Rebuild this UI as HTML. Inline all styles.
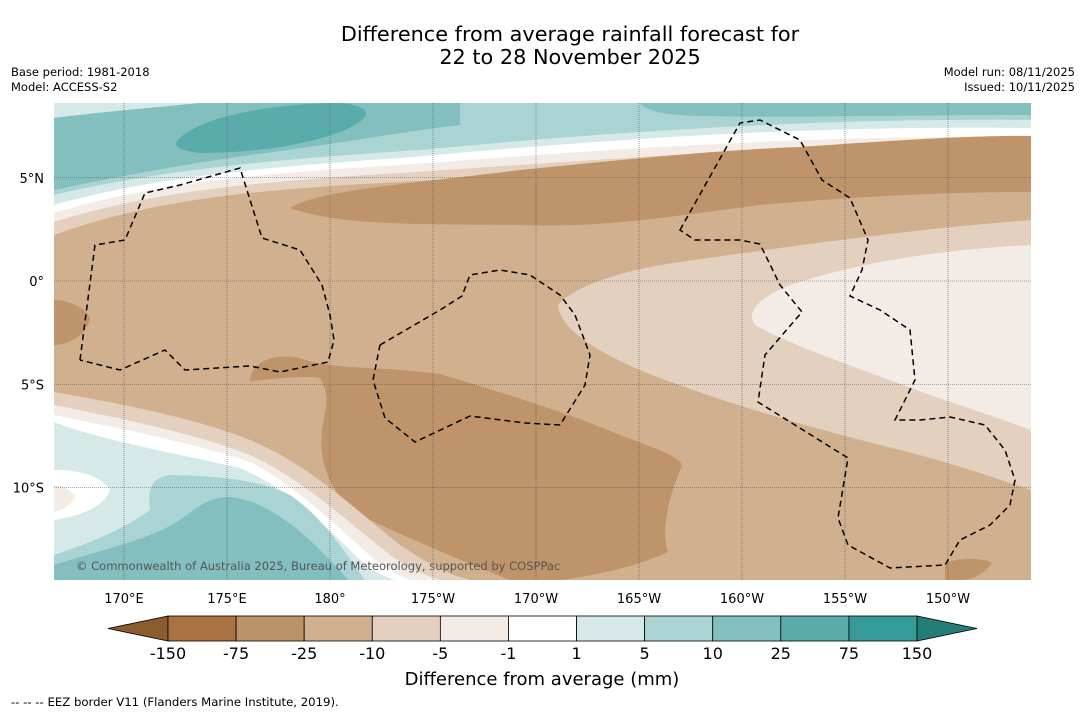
<!DOCTYPE html>
<html><head><meta charset="utf-8"><style>
body{margin:0;background:#fff;width:1085px;height:713px;overflow:hidden;font-family:"Liberation Sans",sans-serif;}
svg text{font-family:"DejaVu Sans","Liberation Sans",sans-serif;}
</style></head><body>
<svg width="1085" height="713" viewBox="0 0 1085 713">
<text x="570" y="41" text-anchor="middle" font-size="20.8">Difference from average rainfall forecast for</text>
<text x="570" y="64" text-anchor="middle" font-size="20.8">22 to 28 November 2025</text>
<text x="11" y="76" font-size="11.5">Base period: 1981-2018</text>
<text x="11" y="91" font-size="11.5">Model: ACCESS-S2</text>
<text x="1075" y="76" font-size="11.5" text-anchor="end">Model run: 08/11/2025</text>
<text x="1075" y="91" font-size="11.5" text-anchor="end">Issued: 10/11/2025</text>
<defs><clipPath id="mc"><rect x="54" y="103" width="977" height="477"/></clipPath></defs>
<g clip-path="url(#mc)">
<rect x="54" y="103" width="977" height="477" fill="#d1b08f"/>
<path d="M54,103H1031V152C800,150 600,170 400,182C250,190 150,200 54,235Z" fill="#e3d0bf"/>
<path d="M54,103H1031V145C800,143 600,160 400,173C250,182 150,192 54,222Z" fill="#f3ebe5"/>
<path d="M54,103H1031V137C800,135 600,150 400,165C250,174 150,184 54,213Z" fill="#ffffff"/>
<path d="M54,103H1031V128C800,125 600,140 400,158C250,168 150,178 54,205Z" fill="#d4e9e8"/>
<path d="M54,103H1031V120C850,118 650,128 420,150C260,160 150,172 54,195Z" fill="#a9d4d3"/>
<path d="M54,103H460V125C400,132 330,145 250,155C180,165 110,178 54,190Z" fill="#84bfbf"/>
<path d="M640,103H1031V115C900,115 800,118 700,116C660,115 645,110 640,103Z" fill="#84bfbf"/>
<path d="M178,140C200,115 280,103 340,103C375,106 372,118 345,130C310,144 260,153 200,153C180,151 172,146 178,140Z" fill="#5aabab"/>
<path d="M54,103H200C150,108 100,112 54,118Z" fill="#d4e9e8"/>
<path d="M290,208C320,190 400,185 520,170C640,158 720,150 800,147C900,140 980,135 1031,136V192C950,192 860,196 760,205C660,218 600,228 520,225C420,224 340,226 290,208Z" fill="#c0946a"/>
<path d="M1031,220C900,230 780,248 680,262C610,272 570,290 558,305C560,330 600,355 660,378C740,408 820,430 900,450C960,465 1000,480 1031,490Z" fill="#e3d0bf"/>
<path d="M1031,245C930,250 850,265 790,285C760,297 745,312 755,325C790,345 850,365 930,395C980,412 1010,422 1031,430Z" fill="#f3ebe5"/>
<path d="M250,381C250,365 270,352 300,358C330,370 380,366 440,374C500,392 560,410 620,435C660,450 690,460 680,470C670,495 660,530 668,552C640,565 600,575 560,580H510C460,560 400,535 360,515C330,495 318,460 322,430C326,405 330,395 320,378C300,375 270,380 250,381Z" fill="#c0946a"/>
<path d="M54,300C70,300 90,310 90,320C85,335 70,345 54,345Z" fill="#c0946a"/>
<path d="M945,563C960,557 985,558 992,563C985,572 975,580 960,580H945Z" fill="#c0946a"/>
<path d="M54,392C130,405 200,420 250,440C310,465 350,505 400,545C430,565 450,575 470,580H54Z" fill="#e3d0bf"/>
<path d="M54,405C130,420 200,435 250,455C300,478 340,515 390,555C410,568 425,575 440,580H54Z" fill="#f3ebe5"/>
<path d="M54,415C130,430 200,445 250,462C295,485 330,520 375,560C390,570 400,576 410,580H54Z" fill="#ffffff"/>
<path d="M54,422C100,440 170,452 240,468C290,490 325,525 365,565C375,572 385,577 395,580H54Z" fill="#d4e9e8"/>
<path d="M54,555C100,540 130,525 150,510C148,490 150,478 170,475C220,476 260,480 290,495C320,515 340,545 365,580H54Z" fill="#a9d4d3"/>
<path d="M54,580V565C100,550 150,540 180,520C200,505 210,497 230,497C260,500 290,520 320,550C330,560 340,570 348,580Z" fill="#84bfbf"/>
<path d="M54,470C80,470 100,475 110,490C105,505 85,515 54,520Z" fill="#ffffff"/>
<path d="M54,485C62,485 72,490 75,497C72,505 62,510 54,512Z" fill="#f3ebe5"/>
<g stroke="#555" stroke-width="0.6" stroke-dasharray="1,1" id="grid"></g>
<g fill="none" stroke="#000" stroke-width="1.5" stroke-dasharray="6,4">
<path d="M80,360L95,245L125,240L145,193L180,185L240,168L262,238L300,250L322,285L330,315L334,340L328,362L280,372L250,366L185,370L165,350L120,370L80,360"/>
<path d="M380,345L440,310L462,296L470,275L500,270L530,275L560,295L575,315L590,355L585,385L560,425L525,423L470,416L415,442L385,418L373,380L380,345"/>
<path d="M680,230L740,123L760,120L800,140L822,180L850,198L868,240L862,270L850,296L880,310L910,330L915,380L895,420L920,420L950,417L985,425L1005,450L1015,480L1010,505L990,525L960,540L945,565L890,568L848,545L838,518L848,458L758,402L765,355L802,312L780,285L760,244L740,240L695,240Z"/>
</g>
<text x="76" y="570" font-size="11.5" fill="#555">© Commonwealth of Australia 2025, Bureau of Meteorology, supported by COSPPac</text>
</g>
<g id="axlabels" font-size="13"></g>
<g id="cbar"></g>
<text x="542" y="685" text-anchor="middle" font-size="18">Difference from average (mm)</text>
<text x="11" y="706" font-size="11.7">--  --  -- EEZ border V11 (Flanders Marine Institute, 2019).</text>
</svg>
<script>
const lonLabels=["170°E","175°E","180°","175°W","170°W","165°W","160°W","155°W","150°W"];
const lonValues=[170,175,180,185,190,195,200,205,210];
const latLabels=["5°N","0°","5°S","10°S"];
const latValues=[5,0,-5,-10];
const cbLevels=["-150","-75","-25","-10","-5","-1","1","5","10","25","75","150"];
const cbColors=["#a87340","#be9268","#d1b08f","#e3d0bf","#f3ebe5","#ffffff","#d4e9e8","#a9d4d3","#84bfbf","#5aabab","#359a98"];
const ns="http://www.w3.org/2000/svg";
const xLon=v=>124+(v-170)*20.6;
const yLat=v=>281-v*20.65;
const grid=document.getElementById('grid'),ax=document.getElementById('axlabels');
lonValues.forEach((v,i)=>{
 const l=document.createElementNS(ns,'line');
 l.setAttribute('x1',xLon(v));l.setAttribute('x2',xLon(v));l.setAttribute('y1',103);l.setAttribute('y2',580);
 
 
 grid.appendChild(l);
 const t=document.createElementNS(ns,'text');
 t.setAttribute('x',xLon(v));t.setAttribute('y',603);t.setAttribute('text-anchor','middle');t.textContent=lonLabels[i];
 
 
 ax.appendChild(t);
});
latValues.forEach((v,i)=>{
 const l=document.createElementNS(ns,'line');
 l.setAttribute('x1',54);l.setAttribute('x2',1031);l.setAttribute('y1',yLat(v));l.setAttribute('y2',yLat(v));
 
 
 grid.appendChild(l);
 const t=document.createElementNS(ns,'text');
 t.setAttribute('x',44);t.setAttribute('y',yLat(v)+5);t.setAttribute('text-anchor','end');t.textContent=latLabels[i];
 
 
 ax.appendChild(t);
});
const cb=document.getElementById('cbar');
const x0=168,x1=917,y0=616,h=25,w=(x1-x0)/cbColors.length;
const lt=document.createElementNS(ns,'polygon');
lt.setAttribute('points',`${x0},${y0} ${x0},${y0+h} 108,${y0+h/2}`);lt.setAttribute('fill','#8c5b2e');lt.setAttribute('stroke','#000');lt.setAttribute('stroke-width','0.8');


cb.appendChild(lt);
const rt=document.createElementNS(ns,'polygon');
rt.setAttribute('points',`${x1},${y0} ${x1},${y0+h} 977,${y0+h/2}`);rt.setAttribute('fill','#257d79');rt.setAttribute('stroke','#000');rt.setAttribute('stroke-width','0.8');


cb.appendChild(rt);
cbColors.forEach((c,i)=>{
 const r=document.createElementNS(ns,'rect');
 r.setAttribute('x',x0+i*w);r.setAttribute('y',y0);r.setAttribute('width',w);r.setAttribute('height',h);r.setAttribute('fill',c);r.setAttribute('stroke','#000');r.setAttribute('stroke-width','0.8');
 
 
 cb.appendChild(r);
});
cbLevels.forEach((s,i)=>{
 const t=document.createElementNS(ns,'text');
 t.setAttribute('x',x0+i*w);t.setAttribute('y',659);t.setAttribute('text-anchor','middle');t.setAttribute('font-size','16');t.textContent=s;
 
 
 cb.appendChild(t);
});
</script>
</body></html>
